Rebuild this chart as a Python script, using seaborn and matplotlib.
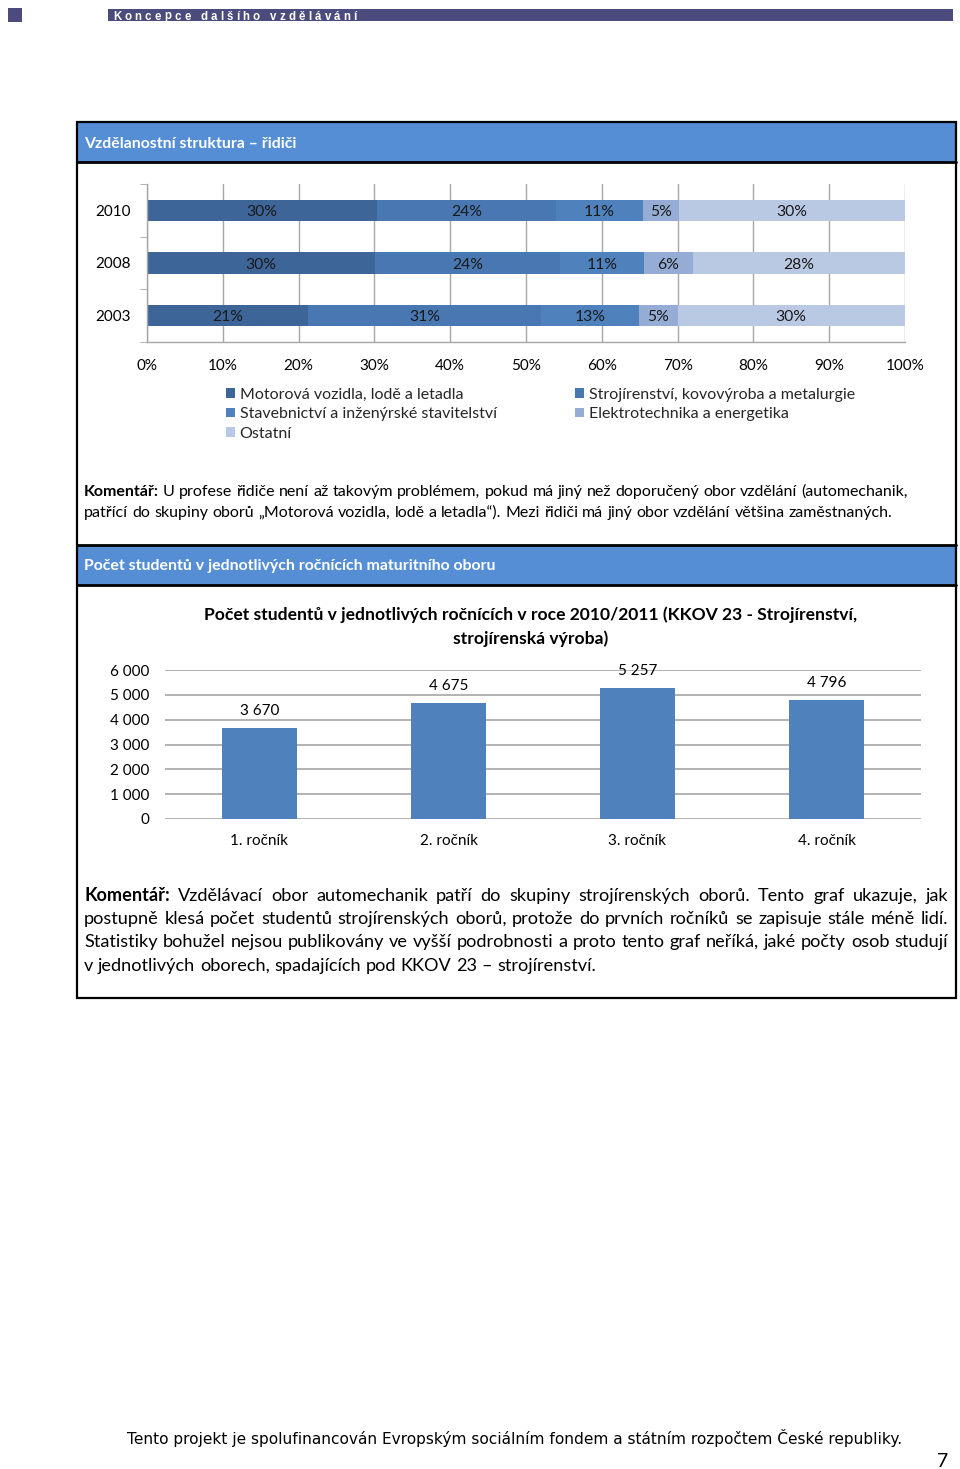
import numpy as np
import pandas as pd
import matplotlib
matplotlib.use("Agg")
import matplotlib.pyplot as plt
import seaborn as sns
from matplotlib.patches import Rectangle, Patch
from matplotlib.lines import Line2D
from matplotlib.ticker import FuncFormatter, MultipleLocator, FixedLocator

# ---------------- data ----------------
years = ["2010", "2008", "2003"]
series_names = [
    "Motorová vozidla, lodě a letadla",
    "Strojírenství, kovovýroba a metalurgie",
    "Stavebnictví a inženýrské stavitelství",
    "Elektrotechnika a energetika",
    "Ostatní",
]
motorova = [30.3, 30.1, 21.2]
strojirenstvi = [23.7, 24.4, 30.8]
stavebnictvi = [11.4, 11.1, 12.9]
elektrotechnika = [4.8, 6.4, 5.1]
ostatni = [29.8, 28.0, 30.0]
pct_ticks = [0, 10, 20, 30, 40, 50, 60, 70, 80, 90, 100]

rocniky = ["1. ročník", "2. ročník", "3. ročník", "4. ročník"]
studenti = [3670, 4675, 5257, 4796]

# ---------------- style ----------------
W, H = 960, 1469
sns.set_style("white")
plt.rcParams["font.family"] = ["Lato", "DejaVu Sans"]
series_colors = ["#3D6598", "#4877B1", "#4F81BD", "#95ADD5", "#B9C9E3"]
header_blue = "#558ED5"
grid_gray = "#A6A6A6"
txt = "#000000"

fig = plt.figure(figsize=(W / 100, H / 100), dpi=100)
fig.patch.set_facecolor("white")
renderer = fig.canvas.get_renderer()


def fx(x):
    return x / W


def fy(y):
    return 1 - y / H


def add_rect(x0, y0, x1, y1, **kw):
    fig.add_artist(Rectangle((fx(x0), fy(y1)), (x1 - x0) / W, (y1 - y0) / H,
                             transform=fig.transFigure, **kw))


def hline(y, x0, x1, lw=2, color="black"):
    fig.add_artist(Line2D([fx(x0), fx(x1)], [fy(y), fy(y)], transform=fig.transFigure,
                          lw=lw, color=color))


def tw(s, **kw):
    t = fig.text(0, 0, s, **kw)
    w = t.get_window_extent(renderer=renderer).width
    t.remove()
    return w


def natural_width(tokens, size, fam):
    widths = [tw(w, fontsize=size, fontweight=wt, family=fam) for w, wt in tokens]
    space = tw("a a", fontsize=size, family=fam) - tw("aa", fontsize=size, family=fam)
    return sum(widths) + space * (len(tokens) - 1)


def draw_tokens(tokens, x0, y_base, size, justify_to=None, family=None):
    fam = family or plt.rcParams["font.family"]
    widths = [tw(w, fontsize=size, fontweight=wt, family=fam) for w, wt in tokens]
    space = tw("a a", fontsize=size, family=fam) - tw("aa", fontsize=size, family=fam)
    if justify_to is not None and len(tokens) > 1:
        gap = (justify_to - x0 - sum(widths)) / (len(tokens) - 1)
    else:
        gap = space
    x = x0
    for (w, wt), wd in zip(tokens, widths):
        fig.text(fx(x), fy(y_base), w, fontsize=size, fontweight=wt, family=fam,
                 ha="left", va="baseline", color=txt)
        x += wd + gap


def tokens_of(line, bold_prefix=None):
    toks = []
    rest = line
    if bold_prefix and line.startswith(bold_prefix):
        toks.append((bold_prefix, "bold"))
        rest = line[len(bold_prefix):]
    toks += [(w, "normal") for w in rest.split()]
    return toks


def fit_size(s, target, base=11, **kw):
    return base * target / tw(s, fontsize=base, **kw)


FAM = plt.rcParams["font.family"]

# ---------------- page header ----------------
add_rect(8, 8, 22, 22, facecolor="#4B4B7E", edgecolor="none")
add_rect(108, 9, 953, 21, facecolor="#4B4B7E", edgecolor="none")
band_text = "Koncepce dalšího vzdělávání"
band_fam = ["Liberation Sans", "DejaVu Sans"]
band_size = 8.3
cw = [tw(ch, fontsize=band_size, fontweight="bold", family=band_fam) if ch != " "
      else tw("a", fontsize=band_size, family=band_fam) * 0.6 for ch in band_text]
spacing = (357 - 113 - sum(cw)) / (len(band_text) - 1)
bx = 113
for ch, w in zip(band_text, cw):
    fig.text(fx(bx), fy(19.5), ch, fontsize=band_size, fontweight="bold", color="white",
             family=band_fam, ha="left", va="baseline")
    bx += w + spacing

# ---------------- box frame ----------------
add_rect(78, 123, 955, 162, facecolor=header_blue, edgecolor="none")
add_rect(78, 545, 955, 585, facecolor=header_blue, edgecolor="none")
add_rect(77, 122, 956, 998, facecolor="none", edgecolor="black", lw=1.6)
hline(162, 77, 956)
hline(544.5, 77, 956)
hline(585, 77, 956)
h1 = "Vzdělanostní struktura – řidiči"
hsize = fit_size(h1, 213, fontweight="bold")
fig.text(fx(84), fy(148), h1, fontsize=hsize, fontweight="bold",
         color="white", ha="left", va="baseline")
fig.text(fx(84), fy(570), "Počet studentů v jednotlivých ročnících maturitního oboru", fontsize=hsize,
         fontweight="bold", color="white", ha="left", va="baseline")

# ---------------- chart 1: stacked horizontal bars ----------------
ax1 = fig.add_axes([fx(147), fy(342), (905 - 147) / W, (342 - 184) / H])
ax1.set_facecolor("none")
vals = np.array([motorova, strojirenstvi, stavebnictvi, elektrotechnika, ostatni])
cum = np.cumsum(vals, axis=0)
for i in reversed(range(len(series_names))):
    sns.barplot(x=cum[i], y=years, orient="h", color=series_colors[i], saturation=1,
                width=0.4, errorbar=None, linewidth=0, ax=ax1)
for i in range(len(series_names)):
    for j in range(len(years)):
        ax1.text(cum[i][j] - vals[i][j] / 2, j + 0.03, f"{vals[i][j]:.0f}%", ha="center", va="center",
                 fontsize=11.3, color="#1A1A1A")
ax1.set_xlim(0, 100)
ax1.set_ylim(2.5, -0.5)
ax1.set_xticks(pct_ticks)
ax1.set_xticklabels([f"{t}%" for t in pct_ticks])
ax1.set_xlabel("")
ax1.set_ylabel("")
ax1.xaxis.grid(True, color=grid_gray, lw=1)
ax1.yaxis.grid(False)
ax1.set_axisbelow(True)
for s in ["top", "right"]:
    ax1.spines[s].set_visible(False)
for s in ["left", "bottom"]:
    ax1.spines[s].set_color(grid_gray)
    ax1.spines[s].set_linewidth(1)
ax1.yaxis.set_minor_locator(FixedLocator([-0.5, 0.5, 1.5, 2.5]))
ax1.tick_params(axis="x", which="major", length=5, color=grid_gray, pad=7, labelsize=11,
                labelcolor=txt)
ax1.tick_params(axis="y", which="major", length=0, pad=11.5, labelsize=11, labelcolor=txt)
ax1.tick_params(axis="y", which="minor", length=5, color=grid_gray, left=True)

# legend (two columns as two blocks)
leg_size = fit_size(series_names[0], 224)
col1 = [0, 2, 4]
col2 = [1, 3]
for idxs, xpos in [(col1, 226), (col2, 575)]:
    fig.legend(handles=[Patch(facecolor=series_colors[k], edgecolor="none") for k in idxs],
               labels=[series_names[k] for k in idxs], loc="upper left",
               bbox_to_anchor=(fx(xpos), fy(388)), bbox_transform=fig.transFigure,
               frameon=False, fontsize=leg_size, handlelength=0.55, handleheight=0.55,
               handletextpad=0.3, labelspacing=0.33, borderpad=0, borderaxespad=0)

# comment 1
c1_lines = [
    "Komentář: U profese řidiče není až takovým problémem, pokud má jiný než doporučený obor vzdělání (automechanik,",
    "patřící do skupiny oborů „Motorová vozidla, lodě a letadla“). Mezi řidiči má jiný obor vzdělání většina zaměstnaných.",
]
c1_tok = [tokens_of(c1_lines[0], "Komentář:"), tokens_of(c1_lines[1])]
c1_size = 11 * 826 / natural_width(c1_tok[0], 11, FAM)
draw_tokens(c1_tok[0], 84, 496, c1_size)
draw_tokens(c1_tok[1], 84, 517, c1_size)

# ---------------- chart 2: vertical bars ----------------
t1 = "Počet studentů v jednotlivých ročnících v roce 2010/2011 (KKOV 23 - Strojírenství,"
tsize = fit_size(t1, 647, base=12, fontweight="bold")
fig.text(fx(530.5), fy(620), t1, fontsize=tsize, fontweight="bold", ha="center", va="baseline", color=txt)
fig.text(fx(530.5), fy(644), "strojírenská výroba)", fontsize=tsize, fontweight="bold", ha="center",
         va="baseline", color=txt)

ax2 = fig.add_axes([fx(165), fy(819), (921 - 165) / W, (819 - 670) / H])
ax2.set_facecolor("none")
sns.barplot(x=rocniky, y=studenti, color="#4F81BD", saturation=1, width=0.4, errorbar=None,
            linewidth=0, ax=ax2)
ax2.set_ylim(0, 6000)
ax2.yaxis.set_major_locator(MultipleLocator(1000))
ax2.yaxis.set_major_formatter(FuncFormatter(lambda v, p: f"{int(v):,}".replace(",", " ")))
ax2.yaxis.grid(True, color=grid_gray, lw=1.2)
ax2.xaxis.grid(False)
ax2.set_axisbelow(True)
for s in ax2.spines.values():
    s.set_visible(False)
ax2.tick_params(axis="y", length=0, pad=11.5, labelsize=11, labelcolor=txt)
ax2.tick_params(axis="x", length=0, pad=11, labelsize=11, labelcolor=txt)
ax2.set_xlabel("")
ax2.set_ylabel("")
for i, v in enumerate(studenti):
    ax2.annotate(f"{v:,}".replace(",", " "), (i, v), xytext=(0, 12.5), textcoords="offset points",
                 ha="center", va="center", fontsize=11, color=txt)

# comment 2 (justified)
c2_lines = [
    "Komentář: Vzdělávací obor automechanik patří do skupiny strojírenských oborů. Tento graf ukazuje, jak",
    "postupně klesá počet studentů strojírenských oborů, protože do prvních ročníků se zapisuje stále méně lidí.",
    "Statistiky bohužel nejsou publikovány ve vyšší podrobnosti a proto tento graf neříká, jaké počty osob studují",
    "v jednotlivých oborech, spadajících pod KKOV 23 – strojírenství.",
]
c2_tok = [tokens_of(l, "Komentář:" if k == 0 else None) for k, l in enumerate(c2_lines)]
c2_size = 11.5 * 862 / max(natural_width(t, 11.5, FAM) for t in c2_tok[:3])
c2_base = [901, 924, 947, 971]
for k, (toks, yb) in enumerate(zip(c2_tok, c2_base)):
    draw_tokens(toks, 84, yb, c2_size, justify_to=948 if k < 3 else None)

# ---------------- footer ----------------
foot = "Tento projekt je spolufinancován Evropským sociálním fondem a státním rozpočtem České republiky."
fsize = fit_size(foot, 777, base=10.5, family=["DejaVu Sans"])
fig.text(fx(127), fy(1444), foot, fontsize=fsize, family=["DejaVu Sans"], ha="left", va="baseline",
         color=txt)
fig.text(fx(943), fy(1467), "7", fontsize=14, ha="center", va="baseline", color=txt)

fig.savefig("out.png", dpi=100)
